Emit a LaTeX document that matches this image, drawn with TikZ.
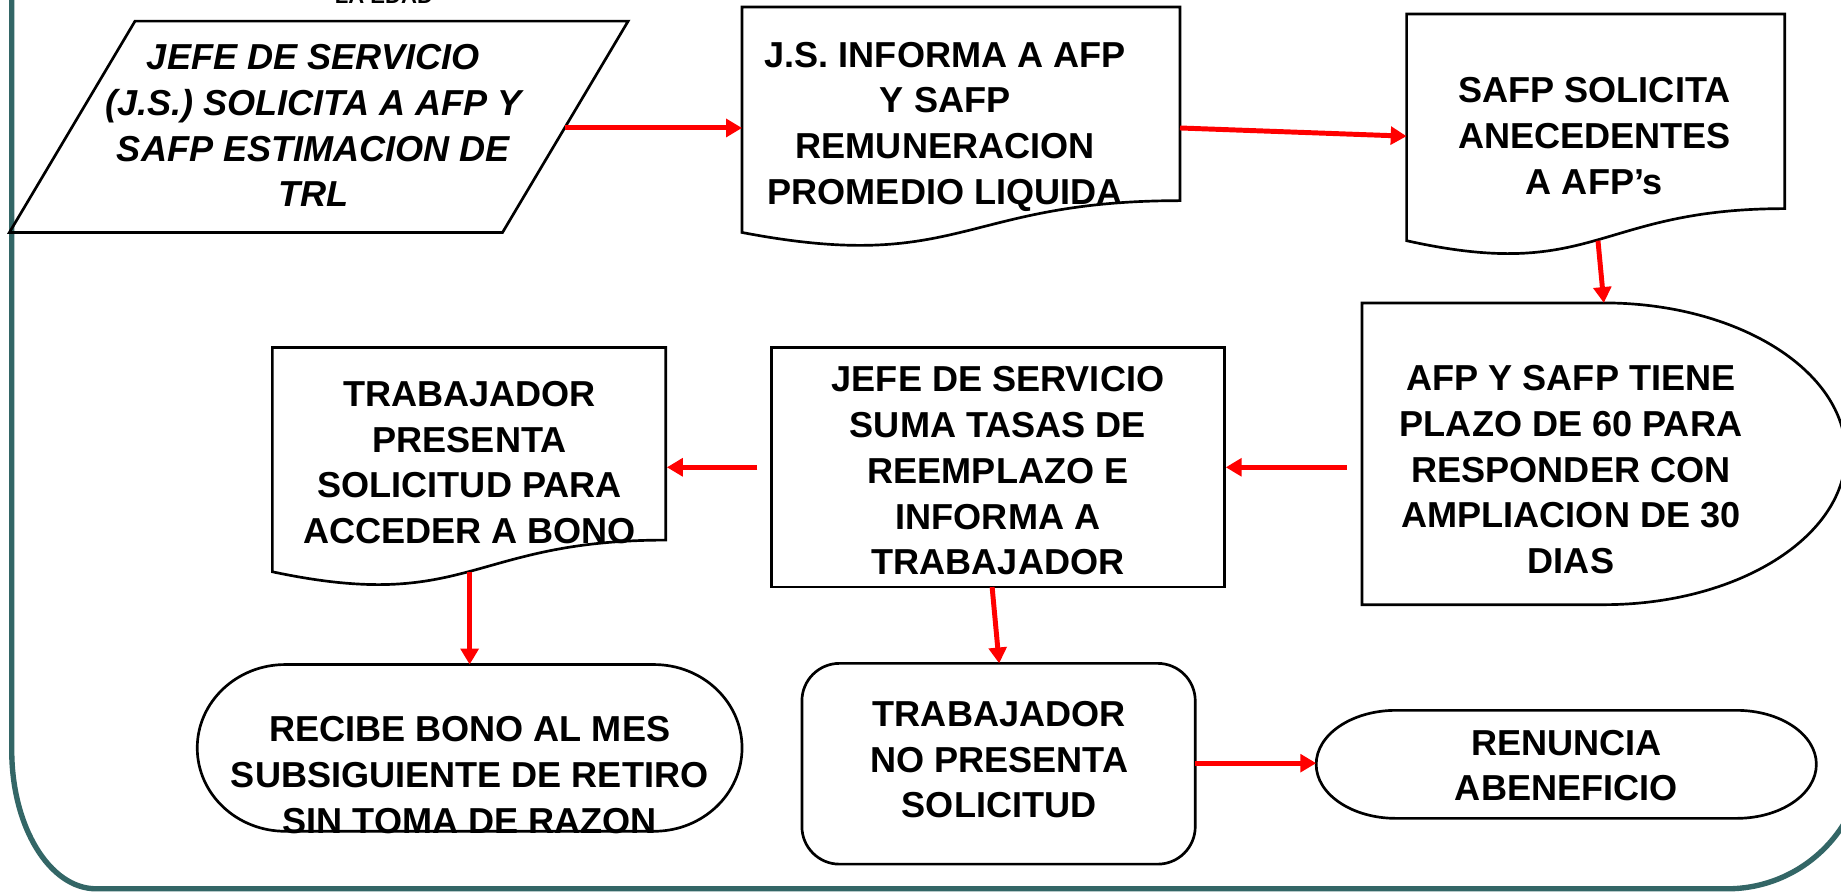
\documentclass[tikz,border=0pt]{standalone}
\usepackage{fontspec}
\setmainfont{Liberation Sans}
\usetikzlibrary{arrows.meta}
\definecolor{frameteal}{RGB}{51,102,102}
\definecolor{arrred}{RGB}{255,0,0}
\begin{document}
\begin{tikzpicture}[x=0.02cm,y=-0.02cm,
  shp/.style={draw=black,line width=1.3pt},
  txt/.style={font=\fontsize{17.5}{22.2}\selectfont\bfseries,align=center,inner sep=0pt},
  txti/.style={font=\fontsize{17.5}{22.2}\selectfont\bfseries\itshape,align=center,inner sep=0pt},
  arr/.style={draw=arrred,line width=2.4pt,-{Triangle[length=0.27cm,width=0.3cm]}}]
\useasboundingbox (0,0) rectangle (1568,760);
% frame
\draw[frameteal,line width=2.6pt] (10,-20) -- (10,639)
  arc[start angle=180,end angle=90,x radius=72,y radius=118]
  -- (1471,757)
  arc[start angle=90,end angle=0,x radius=117,y radius=117]
  -- (1588,-20);
\node[font=\fontsize{10.7}{12}\selectfont\bfseries,anchor=base,inner sep=0pt] (le) at (327,3) {LA EDAD};
% parallelogram
\draw[shp] (8,198) -- (115,18) -- (535,18) -- (428,198) -- cycle;
\node[txti] (t1) at (267,107) {JEFE DE SERVICIO\\(J.S.) SOLICITA A AFP Y\\SAFP ESTIMACION DE\\TRL};
% document 1
\draw[shp] (632,6) -- (1005,6) -- (1005,170.9)
  .. controls (818.5,170.9) and (818.5,233.7) .. (632,198) -- cycle;
\node[txt] (t2) at (805,108) {J.S. INFORMA A AFP\\Y SAFP\\REMUNERACION\\PROMEDIO LIQUIDA};
% document 2
\draw[shp] (1198,12) -- (1520,12) -- (1520,177.7)
  .. controls (1359,177.7) and (1359,240.8) .. (1198,205) -- cycle;
\node[txt] (t3) at (1358,116) {SAFP SOLICITA\\ANECEDENTES\\A AFP’s};
% delay
\draw[shp] (1160,258) -- (1366,258)
  arc[start angle=-90,end angle=90,x radius=206,y radius=128.5]
  -- (1160,515) -- cycle;
\node[txt] (t4) at (1338,400) {AFP Y SAFP TIENE\\PLAZO DE 60 PARA\\RESPONDER CON\\AMPLIACION DE 30\\DIAS};
% process box
\draw[shp] (657,296) rectangle (1043,500);
\node[txt] (t5) at (850,401) {JEFE DE SERVICIO\\SUMA TASAS DE\\REEMPLAZO E\\INFORMA A\\TRABAJADOR};
% document 3
\draw[shp] (232,296) -- (567,296) -- (567,460)
  .. controls (399.5,460) and (399.5,522.5) .. (232,487) -- cycle;
\node[txt] (t6) at (400,394) {TRABAJADOR\\PRESENTA\\SOLICITUD PARA\\ACCEDER A BONO};
% terminator 1
\draw[shp] (243,566) -- (557,566)
  arc[start angle=-90,end angle=90,x radius=75,y radius=71]
  -- (243,708)
  arc[start angle=90,end angle=270,x radius=75,y radius=71] -- cycle;
\node[txt] (t7) at (400,660) {RECIBE BONO AL MES\\SUBSIGUIENTE DE RETIRO\\SIN TOMA DE RAZON};
% rounded rect
\draw[shp,rounded corners=0.64cm] (683,565) rectangle (1018,736);
\node[txt] (t8) at (851,647) {TRABAJADOR\\NO PRESENTA\\SOLICITUD};
% terminator 2
\draw[shp] (1189,605) -- (1479,605)
  arc[start angle=-90,end angle=90,x radius=68,y radius=46]
  -- (1189,697)
  arc[start angle=90,end angle=270,x radius=68,y radius=46] -- cycle;
\node[txt] (t9) at (1334,652) {RENUNCIA\\ABENEFICIO};
% arrow endpoints
\coordinate (a1s) at (481,109); \coordinate (a1e) at (632,109);
\coordinate (a2s) at (1005,109); \coordinate (a2e) at (1198,116);
\coordinate (a3s) at (1361,205); \coordinate (a3e) at (1366,258);
\coordinate (a4s) at (1147,398); \coordinate (a4e) at (1044,398);
\coordinate (a5s) at (645,398); \coordinate (a5e) at (568,398);
\coordinate (a6s) at (400,487); \coordinate (a6e) at (400,566);
\coordinate (a7s) at (845,500); \coordinate (a7e) at (851,565);
\coordinate (a8s) at (1018,650); \coordinate (a8e) at (1121,650);
\draw[arr] (a1s) -- (a1e);
\draw[arr] (a2s) -- (a2e);
\draw[arr] (a3s) -- (a3e);
\draw[arr] (a4s) -- (a4e);
\draw[arr] (a5s) -- (a5e);
\draw[arr] (a6s) -- (a6e);
\draw[arr] (a7s) -- (a7e);
\draw[arr] (a8s) -- (a8e);
\end{tikzpicture}
\end{document}
